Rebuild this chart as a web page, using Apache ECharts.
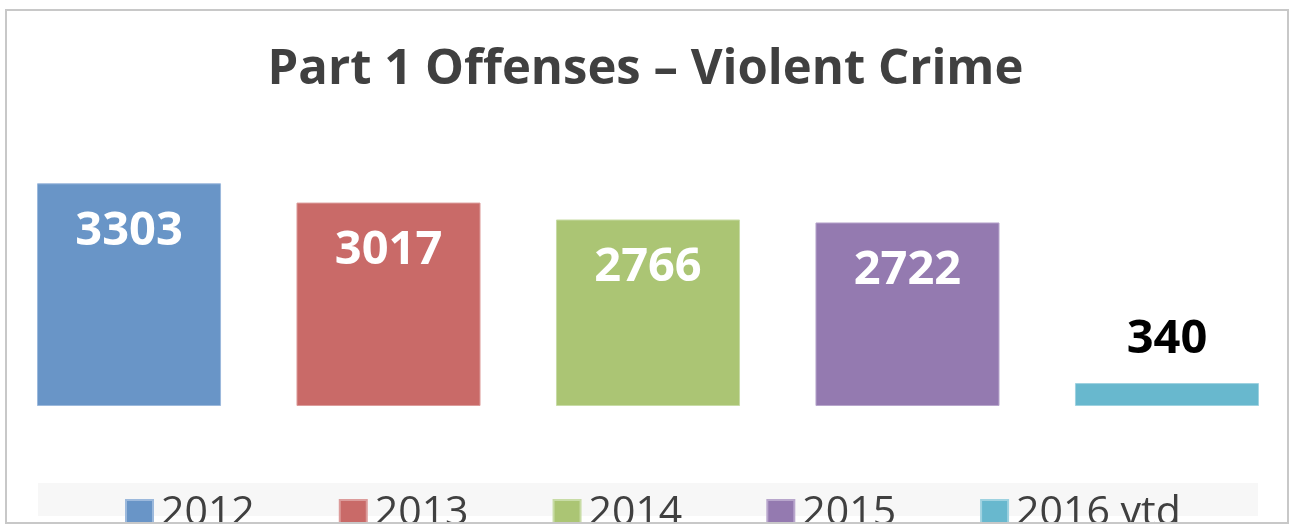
<!DOCTYPE html>
<html>
<head>
<meta charset="utf-8">
<script src="https://cdn.jsdelivr.net/npm/echarts@6/dist/echarts.min.js"></script>
<style>
  html, body { margin: 0; padding: 0; background: #fff; }
  #main { width: 1291px; height: 525px; }
</style>
</head>
<body>
<div id="main"></div>
<script>
var years = ['2012', '2013', '2014', '2015', '2016 ytd'];
var counts = [3303, 3017, 2766, 2722, 340];
var colors = ['#6995c7', '#c96a68', '#abc574', '#947ab0', '#68b8ce'];
var borders = ['#9cb9dc', '#dc9c9b', '#c8dca6', '#b8a6cc', '#9ed2e0'];

var chart = echarts.init(document.getElementById('main'));

var series = years.map(function (y, i) {
    var small = counts[i] < 1000;
    return {
        name: y,
        type: 'bar',
        data: [counts[i]],
        barGap: '41%',
        barCategoryGap: 0,
        itemStyle: { color: colors[i], borderColor: borders[i], borderWidth: 1 },
        label: {
            show: true,
            position: small ? 'top' : 'insideTop',
            distance: small ? 20 : 25,
            color: small ? '#000' : '#fff',
            fontFamily: 'Open Sans',
            fontWeight: 'bold',
            fontSize: 47
        }
    };
});

var option = {
    animation: false,
    color: colors,
    title: {
        text: 'Part 1 Offenses – Violent Crime',
        left: 'center',
        top: 41,
        textStyle: { fontFamily: 'Open Sans', fontWeight: 'bold', fontSize: 49, color: '#404040' }
    },
    grid: { left: 37, right: 32, top: 170, bottom: 119 },
    xAxis: {
        type: 'category',
        data: ['Violent Crime'],
        show: false
    },
    yAxis: {
        type: 'value',
        min: 0,
        max: 3500,
        show: false
    },
    legend: {
        data: years,
        left: 120,
        top: 488,
        itemWidth: 27,
        itemHeight: 27,
        itemGap: 84,
        icon: 'rect',
        textStyle: { fontFamily: 'Open Sans', fontSize: 41, color: '#404040', padding: [0, 0, 0, 3] }
    },
    graphic: [
        {
            type: 'rect', z: -10,
            shape: { x: 38, y: 483, width: 1220, height: 33 },
            style: { fill: '#f7f7f7' }
        },
        {
            type: 'rect', z: 100,
            shape: { x: 0, y: 524, width: 1291, height: 2 },
            style: { fill: '#fff' }
        },
        {
            type: 'rect', z: 101,
            shape: { x: 6, y: 10, width: 1282, height: 513 },
            style: { fill: null, stroke: '#c8c8c8', lineWidth: 2 }
        }
    ],
    series: series
};

chart.setOption(option);
</script>
</body>
</html>
